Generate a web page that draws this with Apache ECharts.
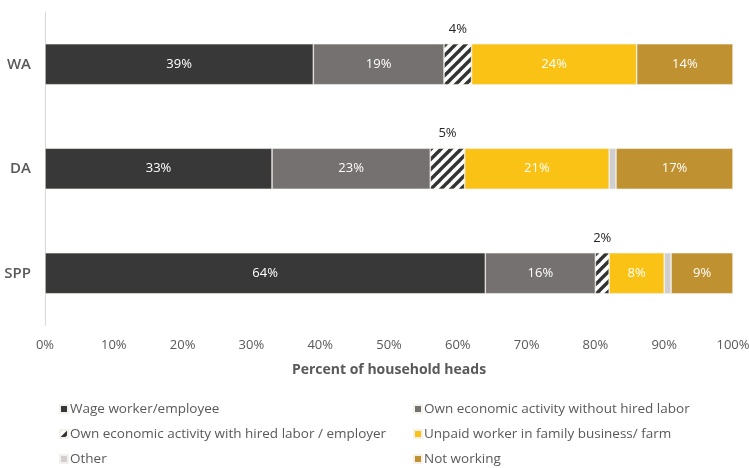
<!DOCTYPE html>
<html>
<head>
<meta charset="utf-8">
<script src="https://cdn.jsdelivr.net/npm/echarts@6/dist/echarts.min.js"></script>
<style>
  html, body { margin: 0; padding: 0; background: #fff; }
  #chart { width: 749px; height: 468px; }
</style>
</head>
<body>
<div id="chart"></div>
<script>
// Main activity of household heads, by group (percent)
const categories = ['WA', 'DA', 'SPP'];
const wageWorker = [39, 33, 64];
const ownNoHired = [19, 23, 16];
const ownWithHired = [4, 5, 2];
const unpaidFamily = [24, 21, 8];
const other = [0, 1, 1];
const notWorking = [14, 17, 9];
const xTicks = [0, 10, 20, 30, 40, 50, 60, 70, 80, 90, 100];

const FONT = '"Open Sans", Lato, sans-serif';

// Diagonal stripe fill for the "employer" segment
function stripePattern() {
  const s = 10;
  const c = document.createElement('canvas');
  c.width = s; c.height = s;
  const g = c.getContext('2d');
  g.fillStyle = '#ffffff';
  g.fillRect(0, 0, s, s);
  g.strokeStyle = '#333333';
  g.lineWidth = 3.4;
  g.lineCap = 'square';
  [[-s, s, s, -s], [0, s, s, 0], [0, 2 * s, 2 * s, 0]].forEach(([x1, y1, x2, y2]) => {
    g.beginPath(); g.moveTo(x1, y1); g.lineTo(x2, y2); g.stroke();
  });
  return { image: c, repeat: 'repeat' };
}

const insideLabel = {
  show: true,
  position: 'inside',
  color: '#ffffff',
  fontFamily: FONT,
  fontSize: 13,
  formatter: p => p.value + '%'
};

function bar(name, data, color, label) {
  return {
    name: name,
    type: 'bar',
    stack: 'total',
    barWidth: 41,
    data: data,
    itemStyle: { color: color, borderColor: '#f4f1ea', borderWidth: 0.6 },
    label: label || { show: false },
    emphasis: { disabled: true }
  };
}

const names = [
  'Wage worker/employee',
  'Own economic activity without hired labor',
  'Own economic activity with hired labor / employer',
  'Unpaid worker in family business/ farm',
  'Other',
  'Not working'
];

const legendBase = {
  top: 401, orient: 'vertical', itemGap: 9, padding: 0,
  itemWidth: 8, itemHeight: 8, icon: 'rect',
  textStyle: { color: '#595959', fontSize: 13.5, lineHeight: 16, fontFamily: FONT, padding: [0, 0, 0, -3] }
};

const chart = echarts.init(document.getElementById('chart'), null, { renderer: 'canvas' });

chart.setOption({
  animation: false,
  backgroundColor: '#ffffff',
  textStyle: { fontFamily: FONT },
  grid: { left: 45, right: 16, top: 12, bottom: 142.5, outerBoundsMode: 'none', containLabel: false },
  xAxis: {
    type: 'value',
    min: 0,
    max: 100,
    interval: 10,
    axisLine: { show: false },
    axisTick: { show: false },
    splitLine: { show: false },
    axisLabel: {
      color: '#595959',
      fontSize: 13,
      fontFamily: FONT,
      margin: 13,
      formatter: v => xTicks.includes(v) ? v + '%' : ''
    },
    name: 'Percent of household heads',
    nameLocation: 'middle',
    nameGap: 38,
    nameTextStyle: { color: '#595959', fontSize: 14, fontWeight: 'bold', fontFamily: FONT }
  },
  yAxis: {
    type: 'category',
    data: categories,
    inverse: true,
    axisLine: { show: true, lineStyle: { color: '#d9d9d9', width: 1 } },
    axisTick: { show: false },
    axisLabel: { color: '#595959', fontSize: 15, fontWeight: 600, fontFamily: FONT, margin: 14 }
  },
  legend: [
    Object.assign({}, legendBase, { left: 59, data: [names[0], names[2], names[4]] }),
    Object.assign({}, legendBase, { left: 413, data: [names[1], names[3], names[5]] })
  ],
  series: [
    bar(names[0], wageWorker, '#383838', insideLabel),
    bar(names[1], ownNoHired, '#767171', insideLabel),
    bar(names[2], ownWithHired, stripePattern(), {
      show: true, position: 'top', distance: 8, color: '#262626',
      fontFamily: FONT, fontSize: 13, formatter: p => p.value + '%'
    }),
    bar(names[3], unpaidFamily, '#FBC216', insideLabel),
    bar(names[4], other, '#D0CECE'),
    bar(names[5], notWorking, '#BF9130', insideLabel)
  ]
});
</script>
</body>
</html>
